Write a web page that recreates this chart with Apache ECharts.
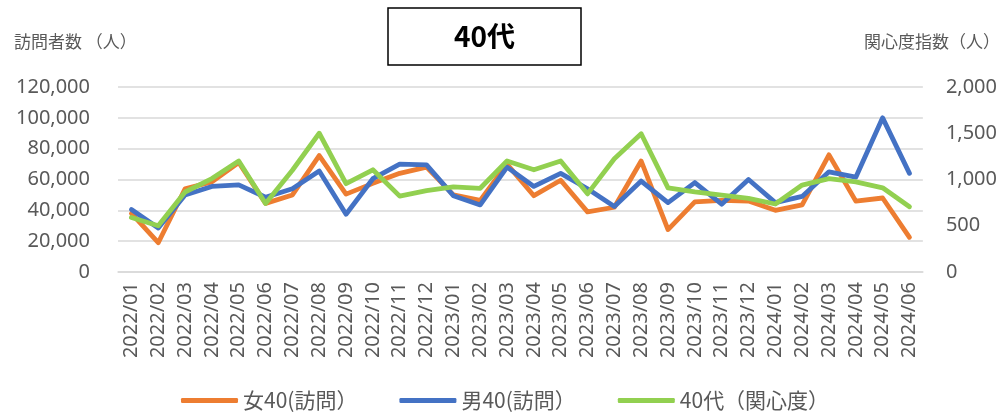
<!DOCTYPE html>
<html>
<head>
<meta charset="utf-8">
<script src="https://cdn.jsdelivr.net/npm/echarts@6/dist/echarts.min.js"></script>
<style>
  html, body { margin: 0; padding: 0; background: #fff; }
  #chart { width: 1000px; height: 412px; }
</style>
</head>
<body>
<div id="chart"></div>
<script>
// Months on the category axis
const months = [
  '2022/01','2022/02','2022/03','2022/04','2022/05','2022/06','2022/07','2022/08','2022/09','2022/10','2022/11','2022/12',
  '2023/01','2023/02','2023/03','2023/04','2023/05','2023/06','2023/07','2023/08','2023/09','2023/10','2023/11','2023/12',
  '2024/01','2024/02','2024/03','2024/04','2024/05','2024/06'
];

// Visitors (left axis)
const femaleVisits = [
  38000, 19000, 54000, 58500, 71000, 44500, 50000, 75500, 50500, 57500, 64000, 68000,
  50000, 46500, 70000, 49500, 59500, 39000, 42000, 72000, 27500, 45500, 46500, 46000,
  40000, 43500, 76000, 46000, 48000, 22500
];
const maleVisits = [
  40500, 28500, 50000, 55500, 56500, 48500, 54000, 65500, 37500, 60500, 70000, 69500,
  49500, 43500, 68000, 55500, 64000, 54000, 42500, 59000, 45000, 58000, 44000, 60000,
  45000, 49000, 65000, 61500, 100000, 64000
];

// Interest index (right axis)
const interestIndex = [
  590, 500, 865, 1010, 1200, 740, 1100, 1500, 955, 1105, 820, 880,
  920, 905, 1200, 1105, 1200, 845, 1225, 1495, 910, 865, 830, 795,
  735, 940, 1010, 975, 910, 705
];

const seriesNames = ['女40(訪問）', '男40(訪問）', '40代（関心度）'];
const chartTitle = '40代';
const leftAxisName = '訪問者数 （人）';
const rightAxisName = '関心度指数（人）';

const textColor = '#595959';
const gridColor = '#d9d9d9';
const fontFamily = '"Noto Sans", "Noto Sans CJK JP", sans-serif';
const cjkFont = '"Noto Sans CJK JP", "Noto Sans", sans-serif';

const chart = echarts.init(document.getElementById('chart'), null, { renderer: 'canvas' });

const lineStyle = (color) => ({ color: color, width: 4.8, cap: 'round', join: 'round' });

chart.setOption({
  animation: false,
  backgroundColor: '#fff',
  color: ['#ED7D31', '#4472C4', '#92D050'],
  grid: { left: 118, right: 75, top: 87, bottom: 140, containLabel: false },
  graphic: [
    {
      type: 'rect',
      shape: { x: 388, y: 8, width: 193, height: 57 },
      style: { fill: '#fff', stroke: '#000', lineWidth: 1.5 }
    },
    {
      type: 'text',
      x: 484.5, y: 36.5,
      style: {
        text: chartTitle, fill: '#000', font: 'bold 28px ' + cjkFont,
        align: 'center', verticalAlign: 'middle'
      }
    },
    {
      type: 'text',
      x: 14, y: 42,
      style: {
        text: leftAxisName, fill: textColor, font: '17px ' + cjkFont,
        align: 'left', verticalAlign: 'middle'
      }
    },
    {
      type: 'text',
      x: 1000, y: 42,
      style: {
        text: rightAxisName, fill: textColor, font: '17px ' + cjkFont,
        align: 'right', verticalAlign: 'middle'
      }
    }
  ],
  legend: {
    left: 176,
    top: 385,
    itemWidth: 57,
    itemHeight: 5,
    itemGap: 42,
    icon: 'roundRect',
    textStyle: { color: textColor, fontSize: 21, fontFamily: cjkFont },
    data: seriesNames
  },
  xAxis: {
    type: 'category',
    data: months,
    boundaryGap: true,
    axisLine: { show: true, lineStyle: { color: gridColor, width: 1.5 } },
    axisTick: { show: false },
    axisLabel: {
      interval: 0, rotate: 90, margin: 10,
      color: textColor, fontSize: 20, fontFamily: fontFamily
    }
  },
  yAxis: [
    {
      type: 'value',
      min: 0, max: 120000, interval: 20000,
      axisLine: { show: false },
      axisTick: { show: false },
      splitLine: { show: true, lineStyle: { color: gridColor, width: 1.5 } },
      axisLabel: {
        margin: 28, color: textColor, fontSize: 20, fontFamily: fontFamily,
        formatter: (v) => v.toLocaleString('en-US')
      }
    },
    {
      type: 'value',
      min: 0, max: 2000, interval: 500,
      position: 'right',
      axisLine: { show: false },
      axisTick: { show: false },
      splitLine: { show: false },
      axisLabel: {
        margin: 23, color: textColor, fontSize: 20, fontFamily: fontFamily,
        formatter: (v) => v.toLocaleString('en-US')
      }
    }
  ],
  series: [
    {
      name: seriesNames[0], type: 'line', yAxisIndex: 0,
      data: femaleVisits, symbol: 'none', lineStyle: lineStyle('#ED7D31'), z: 2
    },
    {
      name: seriesNames[1], type: 'line', yAxisIndex: 0,
      data: maleVisits, symbol: 'none', lineStyle: lineStyle('#4472C4'), z: 3
    },
    {
      name: seriesNames[2], type: 'line', yAxisIndex: 1,
      data: interestIndex, symbol: 'none', lineStyle: lineStyle('#92D050'), z: 4
    }
  ]
});
</script>
</body>
</html>
